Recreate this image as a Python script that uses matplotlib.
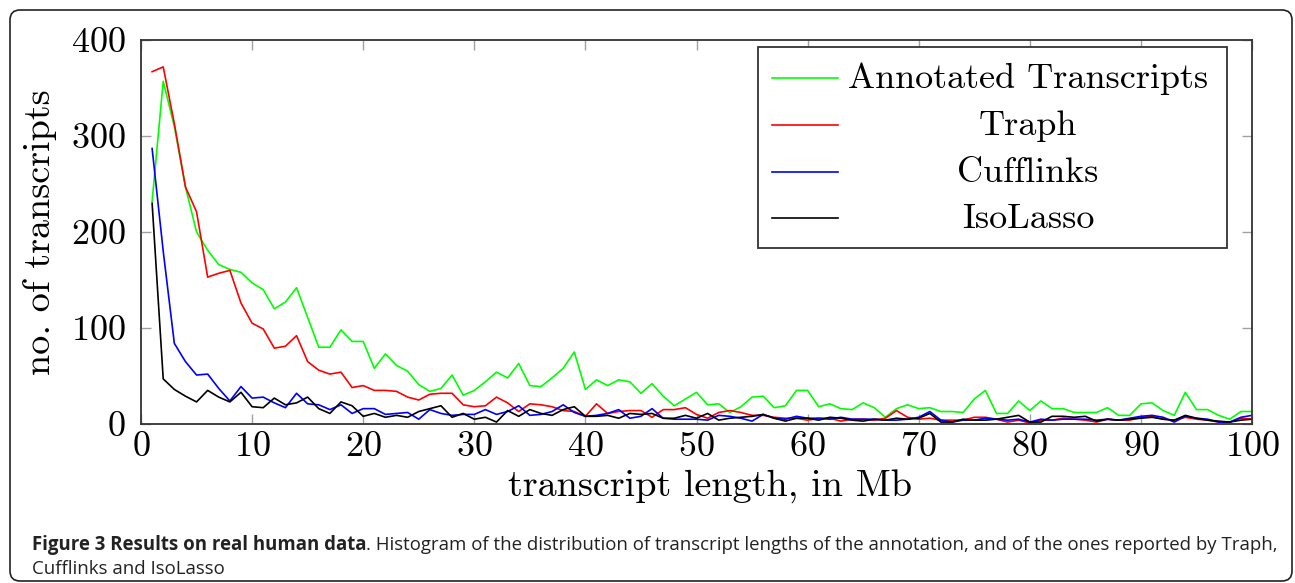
import numpy as np
import matplotlib.pyplot as plt
from matplotlib.patches import FancyBboxPatch, Rectangle
from matplotlib.lines import Line2D
from matplotlib.transforms import IdentityTransform

# transcript length bins (Mb)
lengths = np.arange(1, 101)

annotated = [232, 357, 310, 247, 200, 181, 166, 161, 158, 147,
             140, 120, 127, 142, 111, 80, 80, 98, 86, 86,
             58, 73, 61, 55, 41, 34, 37, 51, 30, 35,
             44, 54, 48, 63, 40, 39, 48, 58, 75, 36,
             46, 40, 46, 44, 32, 42, 29, 19, 26, 33,
             20, 21, 12, 18, 28, 29, 17, 19, 35, 35,
             18, 21, 16, 15, 22, 17, 7, 16, 20, 16,
             17, 13, 13, 12, 26, 35, 11, 11, 24, 14,
             24, 16, 16, 12, 12, 12, 17, 9, 9, 21,
             22, 14, 9, 33, 15, 15, 9, 5, 13, 13]

traph = [367, 372, 313, 247, 221, 153, 157, 160, 126, 105,
         99, 79, 81, 92, 65, 56, 52, 54, 38, 40,
         35, 35, 34, 28, 25, 31, 32, 32, 20, 18,
         19, 28, 22, 13, 21, 20, 18, 14, 13, 8,
         21, 11, 13, 14, 14, 7, 15, 15, 17, 10,
         6, 12, 14, 12, 9, 9, 7, 6, 6, 4,
         6, 6, 3, 5, 5, 4, 6, 14, 7, 5,
         6, 4, 4, 4, 7, 7, 5, 2, 4, 1,
         4, 4, 6, 5, 4, 2, 5, 4, 4, 7,
         8, 5, 4, 7, 5, 4, 2, 2, 6, 5]

cufflinks = [287, 180, 84, 65, 51, 52, 37, 24, 39, 27,
             28, 22, 17, 32, 21, 20, 15, 20, 11, 16,
             16, 10, 11, 12, 5, 15, 11, 9, 10, 10,
             15, 10, 13, 19, 9, 10, 13, 20, 12, 8,
             9, 11, 15, 6, 8, 16, 6, 5, 5, 5,
             4, 9, 8, 6, 3, 10, 6, 5, 8, 6,
             6, 5, 7, 5, 5, 5, 4, 4, 5, 7,
             13, 4, 2, 4, 4, 6, 5, 4, 5, 2,
             5, 4, 5, 5, 5, 4, 5, 4, 6, 8,
             9, 7, 2, 8, 6, 5, 2, 2, 7, 9]

isolasso = [230, 47, 36, 29, 23, 35, 28, 23, 33, 18,
            17, 27, 20, 22, 28, 16, 11, 23, 19, 8,
            11, 7, 9, 7, 13, 16, 19, 7, 11, 5,
            7, 2, 14, 8, 15, 11, 9, 15, 18, 8,
            8, 9, 6, 11, 10, 11, 6, 6, 9, 6,
            11, 4, 6, 7, 8, 10, 6, 3, 6, 6,
            4, 7, 6, 4, 3, 5, 4, 6, 5, 6,
            11, 2, 2, 5, 4, 4, 5, 7, 9, 2,
            2, 8, 8, 7, 8, 3, 5, 4, 5, 6,
            7, 5, 4, 9, 6, 4, 3, 2, 4, 5]

names = ['Annotated Transcripts', 'Traph', 'Cufflinks', 'IsoLasso']
colors = ['#00ff00', '#ff0000', '#0000ff', '#000000']

plt.rcParams['font.family'] = 'cmr10'
plt.rcParams['mathtext.fontset'] = 'cm'
plt.rcParams['axes.formatter.use_mathtext'] = True

W, H = 1295, 583
fig = plt.figure(figsize=(W / 100, H / 100), dpi=100)
ax = fig.add_axes([141 / W, 1 - 424 / H, 1111 / W, 384 / H])

for vals, name, col in zip([annotated, traph, cufflinks, isolasso], names, colors):
    ax.plot(lengths, vals, color=col, lw=1.2, label=name)

ax.set_xlim(0, 100)
ax.set_ylim(0, 400)
ax.set_xticks(range(0, 101, 10))
ax.set_yticks(range(0, 401, 100))
ax.tick_params(direction='in', top=True, right=True, length=7, width=1,
               color='#a0a0a0', labelsize=26)
ax.tick_params(axis='x', pad=5)
ax.tick_params(axis='y', pad=11)
for s in ax.spines.values():
    s.set_color('#333333')
    s.set_linewidth(1.3)

ax.set_xlabel('transcript length, in Mb', fontsize=27.5, labelpad=5)
ax.xaxis.label.set_x(0.512)
ax.set_ylabel('no. of transcripts', fontsize=27.5, labelpad=10)

# legend box, pgfplots style (centred labels)
ax.add_patch(Rectangle((0.5554, 0.4583), 0.4221, 0.5235, transform=ax.transAxes,
                       fc='white', ec='#333333', lw=1.3, zorder=5))
leg_y = [0.9003, 0.7786, 0.6570, 0.5372]
for yy, name, col in zip(leg_y, names, colors):
    ax.add_line(Line2D([0.5677, 0.6276], [yy, yy], transform=ax.transAxes,
                       color=col, lw=1.2, zorder=6))
    ax.text(0.7984, yy - 0.026, name, transform=ax.transAxes, fontsize=26,
            ha='center', va='baseline', zorder=6)

# rounded frame around figure + caption
fig.add_artist(FancyBboxPatch((10, 2), 1282, 571, boxstyle='round,pad=0,rounding_size=10',
                              transform=IdentityTransform(), fc='none', ec='#222222', lw=1.2))

cap_font = ['Open Sans', 'DejaVu Sans']
y1 = (H - 550) / H
y2 = (H - 574) / H
t1 = fig.text(32 / W, y1, 'Figure 3 Results on real human data', family=cap_font,
              fontweight='bold', fontsize=13.4, va='baseline', color='#222222')
fig.canvas.draw()
bb = t1.get_window_extent()
fig.text(bb.x1 / W, y1, '. Histogram of the distribution of transcript lengths of the annotation, '
         'and of the ones reported by Traph,', family=cap_font, fontsize=13.4,
         va='baseline', color='#222222')
fig.text(32 / W, y2, 'Cufflinks and IsoLasso', family=cap_font, fontsize=13.4,
         va='baseline', color='#222222')

fig.savefig('out.png', dpi=100)
